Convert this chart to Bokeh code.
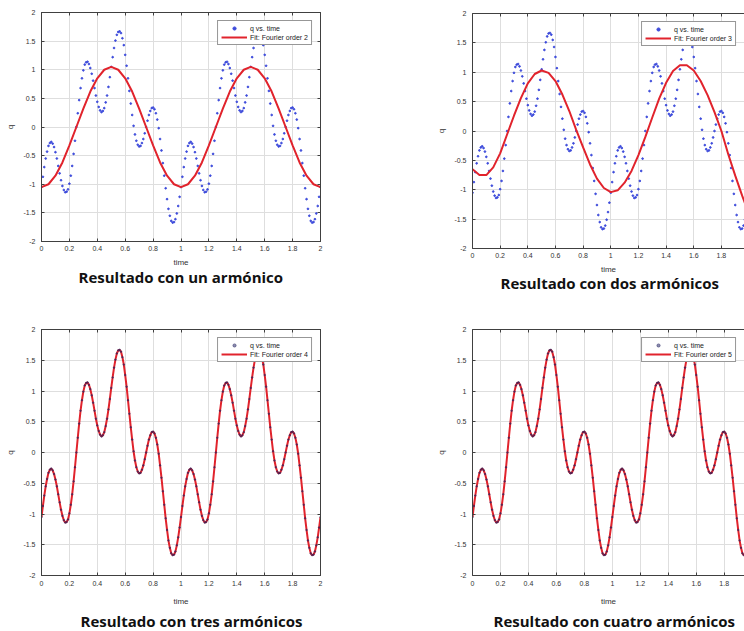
from bokeh.plotting import figure
from bokeh.layouts import column, row
from bokeh.models import FixedTicker, LinearAxis, Range1d, Legend, LegendItem, CustomJSTickFormatter
from bokeh.embed import file_html
from bokeh.resources import INLINE

# ---------------- data ----------------
time = [
    0.00, 0.01, 0.02, 0.03, 0.04, 0.05, 0.06, 0.07, 0.08, 0.09,
    0.10, 0.11, 0.12, 0.13, 0.14, 0.15, 0.16, 0.17, 0.18, 0.19,
    0.20, 0.21, 0.22, 0.23, 0.24, 0.25, 0.26, 0.27, 0.28, 0.29,
    0.30, 0.31, 0.32, 0.33, 0.34, 0.35, 0.36, 0.37, 0.38, 0.39,
    0.40, 0.41, 0.42, 0.43, 0.44, 0.45, 0.46, 0.47, 0.48, 0.49,
    0.50, 0.51, 0.52, 0.53, 0.54, 0.55, 0.56, 0.57, 0.58, 0.59,
    0.60, 0.61, 0.62, 0.63, 0.64, 0.65, 0.66, 0.67, 0.68, 0.69,
    0.70, 0.71, 0.72, 0.73, 0.74, 0.75, 0.76, 0.77, 0.78, 0.79,
    0.80, 0.81, 0.82, 0.83, 0.84, 0.85, 0.86, 0.87, 0.88, 0.89,
    0.90, 0.91, 0.92, 0.93, 0.94, 0.95, 0.96, 0.97, 0.98, 0.99,
    1.00, 1.01, 1.02, 1.03, 1.04, 1.05, 1.06, 1.07, 1.08, 1.09,
    1.10, 1.11, 1.12, 1.13, 1.14, 1.15, 1.16, 1.17, 1.18, 1.19,
    1.20, 1.21, 1.22, 1.23, 1.24, 1.25, 1.26, 1.27, 1.28, 1.29,
    1.30, 1.31, 1.32, 1.33, 1.34, 1.35, 1.36, 1.37, 1.38, 1.39,
    1.40, 1.41, 1.42, 1.43, 1.44, 1.45, 1.46, 1.47, 1.48, 1.49,
    1.50, 1.51, 1.52, 1.53, 1.54, 1.55, 1.56, 1.57, 1.58, 1.59,
    1.60, 1.61, 1.62, 1.63, 1.64, 1.65, 1.66, 1.67, 1.68, 1.69,
    1.70, 1.71, 1.72, 1.73, 1.74, 1.75, 1.76, 1.77, 1.78, 1.79,
    1.80, 1.81, 1.82, 1.83, 1.84, 1.85, 1.86, 1.87, 1.88, 1.89,
    1.90, 1.91, 1.92, 1.93, 1.94, 1.95, 1.96, 1.97, 1.98, 1.99,
    2.00,
]

q = [
    -1.05, -0.87, -0.70, -0.55, -0.43, -0.33, -0.28, -0.26, -0.29, -0.35,
    -0.44, -0.55, -0.68, -0.81, -0.93, -1.03, -1.10, -1.14, -1.13, -1.09,
    -0.99, -0.85, -0.68, -0.47, -0.24, 0.00, 0.24, 0.47, 0.68, 0.85,
    0.99, 1.09, 1.13, 1.14, 1.10, 1.03, 0.93, 0.81, 0.68, 0.55,
    0.44, 0.35, 0.29, 0.26, 0.28, 0.33, 0.43, 0.55, 0.70, 0.87,
    1.05, 1.22, 1.38, 1.51, 1.61, 1.66, 1.67, 1.64, 1.55, 1.43,
    1.26, 1.07, 0.85, 0.63, 0.41, 0.21, 0.02, -0.13, -0.24, -0.31,
    -0.34, -0.33, -0.28, -0.21, -0.11, 0.00, 0.11, 0.21, 0.28, 0.33,
    0.34, 0.31, 0.24, 0.13, -0.02, -0.21, -0.41, -0.63, -0.85, -1.07,
    -1.26, -1.43, -1.55, -1.64, -1.67, -1.66, -1.61, -1.51, -1.38, -1.22,
    -1.05, -0.87, -0.70, -0.55, -0.43, -0.33, -0.28, -0.26, -0.29, -0.35,
    -0.44, -0.55, -0.68, -0.81, -0.93, -1.03, -1.10, -1.14, -1.13, -1.09,
    -0.99, -0.85, -0.68, -0.47, -0.24, 0.00, 0.24, 0.47, 0.68, 0.85,
    0.99, 1.09, 1.13, 1.14, 1.10, 1.03, 0.93, 0.81, 0.68, 0.55,
    0.44, 0.35, 0.29, 0.26, 0.28, 0.33, 0.43, 0.55, 0.70, 0.87,
    1.05, 1.22, 1.38, 1.51, 1.61, 1.66, 1.67, 1.64, 1.55, 1.43,
    1.26, 1.07, 0.85, 0.63, 0.41, 0.21, 0.02, -0.13, -0.24, -0.31,
    -0.34, -0.33, -0.28, -0.21, -0.11, 0.00, 0.11, 0.21, 0.28, 0.33,
    0.34, 0.31, 0.24, 0.13, -0.02, -0.21, -0.41, -0.63, -0.85, -1.07,
    -1.26, -1.43, -1.55, -1.64, -1.67, -1.66, -1.61, -1.51, -1.38, -1.22,
    -1.05,
]

fit_time = [
    0.00, 0.05, 0.10, 0.15, 0.20, 0.25, 0.30, 0.35, 0.40, 0.45,
    0.50, 0.55, 0.60, 0.65, 0.70, 0.75, 0.80, 0.85, 0.90, 0.95,
    1.00, 1.05, 1.10, 1.15, 1.20, 1.25, 1.30, 1.35, 1.40, 1.45,
    1.50, 1.55, 1.60, 1.65, 1.70, 1.75, 1.80, 1.85, 1.90, 1.95,
    2.00,
]

fit_un_armonico = [
    -1.05, -1.00, -0.85, -0.62, -0.32, 0.00, 0.32, 0.62, 0.85, 1.00,
    1.05, 1.00, 0.85, 0.62, 0.32, 0.00, -0.32, -0.62, -0.85, -1.00,
    -1.05, -1.00, -0.85, -0.62, -0.32, 0.00, 0.32, 0.62, 0.85, 1.00,
    1.05, 1.00, 0.85, 0.62, 0.32, 0.00, -0.32, -0.62, -0.85, -1.00,
    -1.05,
]

fit_dos_armonicos = [
    -0.65, -0.75, -0.75, -0.62, -0.38, -0.06, 0.26, 0.56, 0.81, 0.97,
    1.03, 0.99, 0.85, 0.62, 0.34, 0.02, -0.28, -0.57, -0.81, -0.97,
    -1.04, -1.01, -0.88, -0.68, -0.41, -0.10, 0.23, 0.55, 0.82, 1.02,
    1.12, 1.12, 1.03, 0.85, 0.61, 0.32, 0.00, -0.40, -0.76, -1.10,
    -1.42,
]

# the order-4 and order-5 fits lie on top of the samples
fit_tres_armonicos = q
fit_cuatro_armonicos = q

x_ticks = [0, 0.2, 0.4, 0.6, 0.8, 1, 1.2, 1.4, 1.6, 1.8, 2]
x_tick_labels = ["0", "0.2", "0.4", "0.6", "0.8", "1", "1.2", "1.4", "1.6", "1.8", "2"]
y_ticks = [-2, -1.5, -1, -0.5, 0, 0.5, 1, 1.5, 2]
y_tick_labels = ["-2", "-1.5", "-1", "-0.5", "0", "0.5", "1", "1.5", "2"]

captions = [
    "Resultado con un armónico",
    "Resultado con dos armónicos",
    "Resultado con tres armónicos",
    "Resultado con cuatro armónicos",
]
data_label = "q vs. time"
fit_labels = [
    "Fit: Fourier order 2",
    "Fit: Fourier order 3",
    "Fit: Fourier order 4",
    "Fit: Fourier order 5",
]

# ---------------- styling ----------------
AX = "#404040"
TICK_FONT = "Liberation Sans"
DOT = "#3d4bdc"
RED = "#e1232c"


def blank_axis(ticks):
    return LinearAxis(
        ticker=FixedTicker(ticks=ticks),
        formatter=CustomJSTickFormatter(code="return ''"),
        major_tick_in=3, major_tick_out=0,
        minor_tick_line_color=None,
        axis_line_color=AX, major_tick_line_color=AX,
        major_label_standoff=0,
        major_label_text_font_size="1px",
    )


def panel(width, height, bt, bb, bl, br, x_end, fit_x, fit_y, caption, fit_label,
          title_offset, title_standoff, right_side, dots_on_top, tick_so, label_so):
    p = figure(width=width, height=height,
               x_range=Range1d(0, x_end), y_range=Range1d(-2, 2),
               output_backend="svg", toolbar_location=None,
               title=caption, title_location="below",
               min_border_top=bt, min_border_bottom=bb,
               min_border_left=bl, min_border_right=br,
               background_fill_color="white", border_fill_color="white")
    p.outline_line_color = AX if right_side else None

    xa = p.xaxis[0]
    ya = p.yaxis[0]
    xa.ticker = FixedTicker(ticks=x_ticks)
    xa.major_label_overrides = dict(zip(x_ticks, x_tick_labels))
    ya.ticker = FixedTicker(ticks=y_ticks)
    ya.major_label_overrides = dict(zip(y_ticks, y_tick_labels))
    for ax in (xa, ya):
        ax.major_tick_in = 3
        ax.major_tick_out = 0
        ax.minor_tick_line_color = None
        ax.axis_line_color = AX
        ax.major_tick_line_color = AX
        ax.major_label_text_font = TICK_FONT
        ax.major_label_text_font_size = "7px"
        ax.major_label_text_color = "#333333"
        ax.axis_label_text_font = TICK_FONT
        ax.axis_label_text_font_size = "8px"
        ax.axis_label_text_font_style = "normal"
        ax.axis_label_text_color = "#333333"
    xa.axis_label = "time"
    ya.axis_label = "q"
    xa.major_label_standoff = tick_so
    xa.axis_label_standoff = label_so
    ya.major_label_standoff = 6
    ya.axis_label_standoff = 5

    p.xgrid.ticker = FixedTicker(ticks=x_ticks)
    p.ygrid.ticker = FixedTicker(ticks=y_ticks)
    p.xgrid.grid_line_color = "#dedede"
    p.ygrid.grid_line_color = "#dedede"

    p.add_layout(blank_axis(x_ticks), "above")
    if right_side:
        p.add_layout(blank_axis(y_ticks), "right")

    if dots_on_top:
        line = p.line(fit_x, fit_y, line_color=RED, line_width=2)
        dots = p.scatter(time, q, size=1.6, color="#202060", alpha=0.5)
    else:
        dots = p.scatter(time, q, size=1.7, color=DOT)
        line = p.line(fit_x, fit_y, line_color=RED, line_width=2)

    legend = Legend(items=[LegendItem(label=data_label, renderers=[dots]),
                           LegendItem(label=fit_label, renderers=[line])],
                    location="top_right")
    legend.label_text_font = TICK_FONT
    legend.label_text_font_size = "7px"
    legend.label_text_color = "#222222"
    legend.glyph_width = 26
    legend.glyph_height = 8
    legend.label_height = 8
    legend.label_standoff = 3
    legend.spacing = 1
    legend.padding = 3
    legend.margin = 8
    legend.border_line_color = "#303030"
    legend.border_line_width = 1
    legend.background_fill_alpha = 1.0
    p.add_layout(legend)

    p.title.align = "left"
    p.title.offset = title_offset
    p.title.standoff = title_standoff
    p.title.text_font = "Open Sans"
    p.title.text_font_size = "15px"
    p.title.text_font_style = "bold"
    p.title.text_color = "#111111"
    return p


p1 = panel(430, 300, 12, 59, 41, 110, 2.0, fit_time, fit_un_armonico,
           captions[0], fit_labels[0], 37, -10, True, False, 4, 4)
p2 = panel(314, 300, 13, 52, 42, 0, 1.967, fit_time, fit_dos_armonicos,
           captions[1], fit_labels[1], 28, -12, False, False, 4, 4)
p3 = panel(430, 331, 29, 56, 41, 110, 2.0, time, fit_tres_armonicos,
           captions[2], fit_labels[2], 39, 0, True, True, 5, 8)
p4 = panel(314, 331, 29, 56, 42, 0, 1.945, time, fit_cuatro_armonicos,
           captions[3], fit_labels[3], 21, 0, False, True, 5, 8)

layout = row(column(p1, p3), column(p2, p4))

open("out.html", "w").write(file_html(layout, INLINE))
